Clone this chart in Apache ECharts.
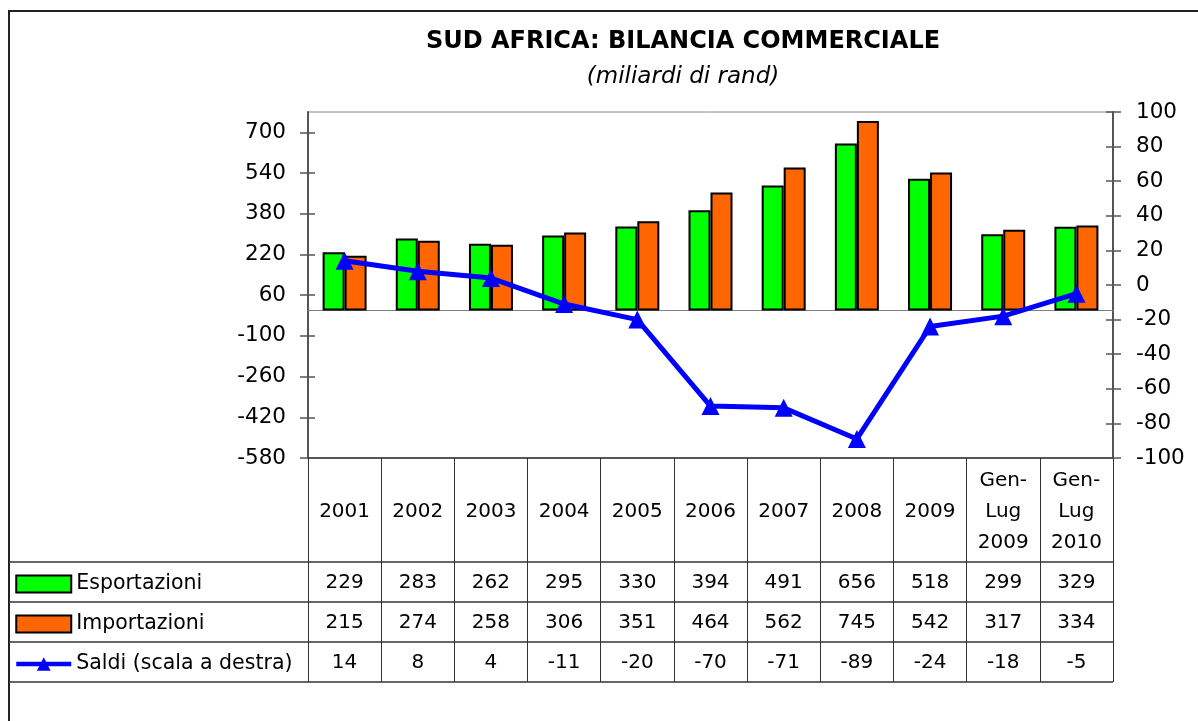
<!DOCTYPE html>
<html>
<head>
<meta charset="utf-8">
<script src="https://cdn.jsdelivr.net/npm/echarts@6/dist/echarts.min.js"></script>
<style>
  html, body { margin: 0; padding: 0; background: #fff; }
  #chart { width: 1198px; height: 721px; }
</style>
</head>
<body>
<div id="chart"></div>
<script>
// dati (miliardi di rand)
const categories = ['2001', '2002', '2003', '2004', '2005', '2006', '2007', '2008', '2009', 'Gen-Lug 2009', 'Gen-Lug 2010'];
const esportazioni = [229, 283, 262, 295, 330, 394, 491, 656, 518, 299, 329];
const importazioni = [215, 274, 258, 306, 351, 464, 562, 745, 542, 317, 334];
const saldi = [14, 8, 4, -11, -20, -70, -71, -89, -24, -18, -5];
const leftTicks = [-580, -420, -260, -100, 60, 220, 380, 540, 700];

const font = 'DejaVu Sans';
// posizione del grafico
const gLeft = 308, gTop = 112, gRight = 1113, gBottom = 458;
const rows = [562, 602, 642, 682]; // linee orizzontali della tabella

var myChart = echarts.init(document.getElementById('chart'));

const tableAxis = (data, offset) => ({
  type: 'category',
  gridIndex: 0,
  position: 'bottom',
  offset: offset,
  data: data.map(String),
  axisLine: { show: false, onZero: false },
  axisTick: { show: false },
  axisLabel: {
    interval: 0,
    margin: 21,
    verticalAlign: 'middle',
    color: '#000',
    fontSize: 20,
    fontFamily: font
  }
});

var option = {
  animation: false,
  backgroundColor: '#fff',
  textStyle: { fontFamily: font },
  title: {
    text: 'SUD AFRICA: BILANCIA COMMERCIALE',
    subtext: '(miliardi di rand)',
    left: 678,
    top: 25,
    textAlign: 'center',
    itemGap: 12,
    textStyle: { fontSize: 24, fontWeight: 'bold', color: '#000', fontFamily: font },
    subtextStyle: { fontSize: 23, fontStyle: 'italic', color: '#000', fontFamily: font }
  },
  legend: {
    orient: 'vertical',
    left: 9,
    top: 567,
    itemWidth: 55,
    itemHeight: 17,
    itemGap: 16,
    textStyle: { fontSize: 20.5, lineHeight: 24, color: '#000', fontFamily: font },
    data: [
      { name: 'Esportazioni', icon: 'rect' },
      { name: 'Importazioni', icon: 'rect' },
      { name: 'Saldi (scala a destra)', lineStyle: { width: 4.5 } }
    ]
  },
  grid: {
    left: gLeft,
    top: gTop,
    right: 1198 - gRight,
    bottom: 721 - gBottom,
    show: true,
    borderColor: '#888',
    borderWidth: 1
  },
  xAxis: [
    {
      type: 'category',
      data: categories,
      axisLine: { onZero: true, onZeroAxisIndex: 0, lineStyle: { color: '#808080', width: 1 } },
      axisTick: { show: false },
      axisLabel: { show: false }
    },
    {
      type: 'category',
      position: 'bottom',
      offset: 0,
      data: categories,
      axisLine: { show: true, onZero: false, lineStyle: { color: '#333', width: 1.5 } },
      axisTick: { show: true, interval: 0, length: rows[3] - gBottom, lineStyle: { color: '#333', width: 1 } },
      axisLabel: {
        interval: 0,
        margin: 54,
        verticalAlign: 'middle',
        lineHeight: 31,
        color: '#000',
        fontSize: 20,
        fontFamily: font,
        formatter: v => v.replace('Gen-Lug ', 'Gen-\nLug\n')
      }
    },
    tableAxis(esportazioni, rows[0] - gBottom),
    tableAxis(importazioni, rows[1] - gBottom),
    tableAxis(saldi, rows[2] - gBottom)
  ],
  yAxis: [
    {
      type: 'value',
      position: 'left',
      min: -580,
      max: 780,
      axisLine: { show: true, lineStyle: { color: '#555', width: 2 } },
      axisTick: { show: true, length: 8, customValues: leftTicks, lineStyle: { color: '#555', width: 1.5 } },
      axisLabel: { customValues: leftTicks, margin: 22, fontSize: 21.5, color: '#000', fontFamily: font },
      splitLine: { show: false }
    },
    {
      type: 'value',
      position: 'right',
      min: -100,
      max: 100,
      interval: 20,
      axisLine: { show: true, lineStyle: { color: '#555', width: 2 } },
      axisTick: { show: true, length: 8, lineStyle: { color: '#555', width: 1.5 } },
      axisLabel: { margin: 23, fontSize: 21.5, color: '#000', fontFamily: font },
      splitLine: { show: false }
    },
    {
      // tacche interne a sinistra
      type: 'value',
      position: 'left',
      min: -580,
      max: 780,
      axisLine: { show: false },
      axisTick: { show: true, inside: true, length: 7, customValues: leftTicks, lineStyle: { color: '#555', width: 1.5 } },
      axisLabel: { show: false },
      splitLine: { show: false }
    },
    {
      // tacche interne a destra
      type: 'value',
      position: 'right',
      min: -100,
      max: 100,
      interval: 20,
      axisLine: { show: false },
      axisTick: { show: true, inside: true, length: 7, lineStyle: { color: '#555', width: 1.5 } },
      axisLabel: { show: false },
      splitLine: { show: false }
    }
  ],
  series: [
    {
      name: 'Esportazioni',
      type: 'bar',
      data: esportazioni,
      barWidth: 22,
      barGap: '0%',
      itemStyle: { color: '#00FF00', borderColor: '#000', borderWidth: 2 }
    },
    {
      name: 'Importazioni',
      type: 'bar',
      data: importazioni,
      barWidth: 22,
      itemStyle: { color: '#FF6600', borderColor: '#000', borderWidth: 2 }
    },
    {
      name: 'Saldi (scala a destra)',
      type: 'line',
      yAxisIndex: 1,
      data: saldi,
      symbol: 'triangle',
      symbolSize: 18,
      lineStyle: { color: '#0000FF', width: 5 },
      itemStyle: { color: '#0000FF' }
    }
  ],
  graphic: [
    // cornice esterna
    {
      type: 'rect',
      shape: { x: 9, y: 11, width: 1300, height: 800 },
      style: { fill: null, stroke: '#222', lineWidth: 2 },
      silent: true
    }
  ].concat(rows.map(y => ({
    type: 'line',
    shape: { x1: 9, y1: y, x2: gRight, y2: y },
    style: { stroke: '#333', lineWidth: 1.5 },
    silent: true
  })))
};
myChart.setOption(option);
</script>
</body>
</html>
